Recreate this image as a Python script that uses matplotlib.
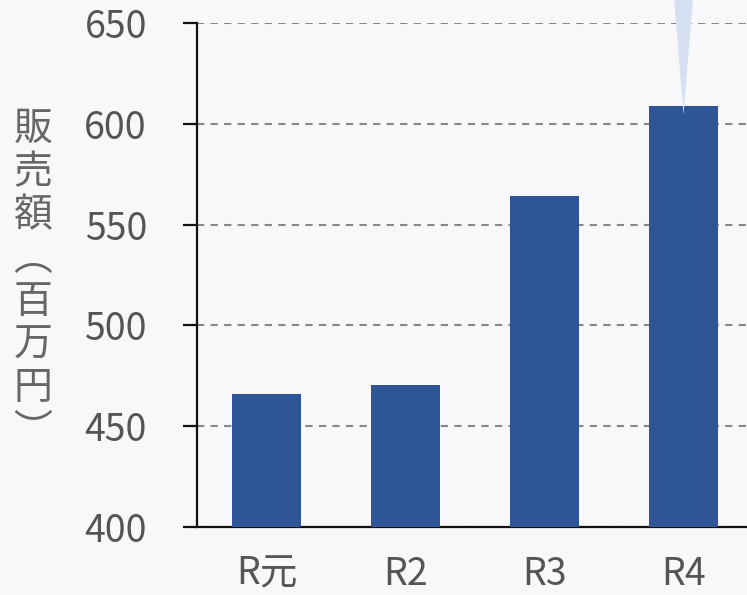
import matplotlib
matplotlib.use("Agg")
import matplotlib.pyplot as plt

plt.rcParams['font.family'] = ['Noto Sans CJK JP', 'DejaVu Sans']

categories = ["R元", "R2", "R3", "R4"]
sales = [466, 470.5, 564, 609]
y_ticks = [400, 450, 500, 550, 600, 650]
ylabel_chars = ["販", "売", "額", "︵", "百", "万", "円", "︶"]

bg = '#f8f8fa'
bar_color = '#2e5596'
wedge_color = '#d5e1f3'

fig = plt.figure(figsize=(7.47, 5.95), dpi=100, facecolor=bg)
ax = fig.add_axes([197/747, 1-527/595, 556/747, 504/595], facecolor=bg)

x = list(range(len(categories)))
ax.bar(x, sales, width=0.5, color=bar_color, zorder=3)

ax.set_xlim(-0.5, 3.5)
ax.set_ylim(400, 650)
ax.set_yticks(y_ticks)
ax.set_xticks(x)
ax.set_xticklabels(categories)

ax.grid(axis='y', color='#888888', linestyle=(0, (3.5, 3)), linewidth=1.5, zorder=1)
ax.set_axisbelow(True)

for s in ['top', 'right']:
    ax.spines[s].set_visible(False)
for s in ['left', 'bottom']:
    ax.spines[s].set_linewidth(1.6)
    ax.spines[s].set_color('#111111')

ax.tick_params(axis='y', length=10, width=1.6, color='#111111', pad=26,
               labelsize=27, labelcolor='#555555')
ax.tick_params(axis='x', length=0, pad=20, labelsize=27, labelcolor='#555555')

ax.set_ylabel("\n".join(ylabel_chars), rotation=0, fontsize=28, color='#666666',
              va='center', ha='center', linespacing=1.1)
ax.yaxis.set_label_coords(-0.295, 0.49)

# decorative wedge pointing at the last bar
ax.annotate('', xy=(x[-1], sales[-1] - 4.5), xytext=(x[-1], 672),
            arrowprops=dict(arrowstyle='wedge,tail_width=1.6', color=wedge_color,
                            shrinkA=0, shrinkB=0, mutation_scale=10, lw=0),
            annotation_clip=False, zorder=5)

fig.savefig('out.png', dpi=100, facecolor=bg)
